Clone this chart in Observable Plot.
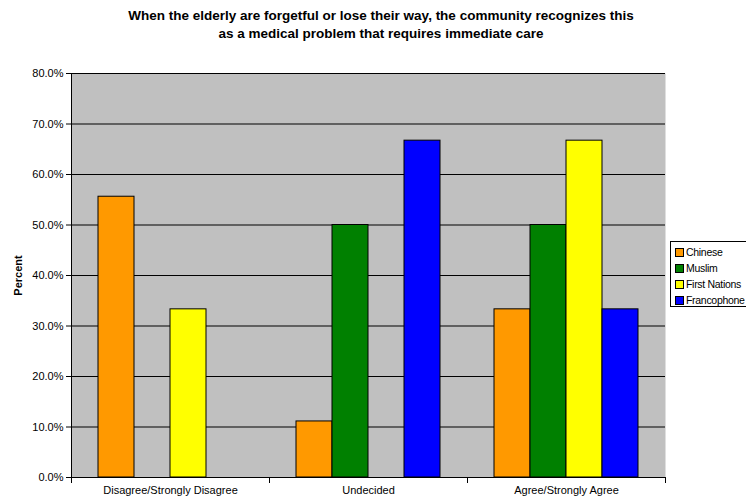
<!DOCTYPE html>
<html><head><meta charset="utf-8">
<script src="https://cdn.jsdelivr.net/npm/d3@7"></script>
<script src="https://cdn.jsdelivr.net/npm/@observablehq/plot@0.6"></script>
<style>
body{margin:0;width:746px;height:500px;overflow:hidden;background:#fff;font-family:"Liberation Sans",Arial,sans-serif;position:relative}
#title{height:50px;text-align:center;font-weight:bold;font-size:13.5px;line-height:18px;padding-top:7px;box-sizing:border-box;padding-left:16px;color:#000}
#legend{position:absolute;left:670px;top:241px;width:92px;height:66px;border:1px solid #000;background:#fff;font-size:10.5px;box-sizing:border-box;padding-top:2px}
#legend .item{height:16px;line-height:16px;white-space:nowrap;padding-left:4px;letter-spacing:-0.3px}
#legend .sw{display:inline-block;width:7px;height:7px;border:1px solid #000;margin-right:2px;vertical-align:-1px}
svg [aria-label="y-axis label"] text{font-weight:bold}
</style></head>
<body>
<div id="title">When the elderly are forgetful or lose their way, the community recognizes this<br>as a medical problem that requires immediate care</div>
<div id="chart"></div>
<div id="legend"></div>
<script>
const categories = ["Disagree/Strongly Disagree", "Undecided", "Agree/Strongly Agree"];
const groups = ["Chinese", "Muslim", "First Nations", "Francophone"];
const colors = ["#FF9900", "#008000", "#FFFF00", "#0000FF"];
const chinese = [55.6, 11.1, 33.3];
const muslim = [0, 50.0, 50.0];
const firstNations = [33.3, 0, 66.7];
const francophone = [0, 66.7, 33.3];
const yTicks = [0, 10, 20, 30, 40, 50, 60, 70, 80];

const series = [chinese, muslim, firstNations, francophone];
const rows = [];
categories.forEach((c, i) => groups.forEach((g, j) => rows.push({category: c, group: g, value: series[j][i]})));

const chart = Plot.plot({
  width: 746, height: 450,
  marginLeft: 70, marginRight: 80, marginTop: 23, marginBottom: 23,
  style: {fontFamily: '"Liberation Sans", Arial, sans-serif', fontSize: "11px", background: "transparent", color: "#000"},
  fx: {domain: categories, padding: 0, label: null},
  x: {domain: groups, paddingInner: 0, paddingOuter: 0.72, axis: null},
  y: {domain: [0, 80]},
  color: {domain: groups, range: colors},
  marks: [
    Plot.frame({fill: "#C0C0C0", stroke: null, facet: "super"}),
    Plot.ruleY(yTicks, {stroke: "#000", strokeWidth: 1}),
    Plot.barY(rows.filter(d => d.value > 0), {fx: "category", x: "group", y: "value", fill: "group", stroke: "#000", strokeWidth: 1}),
    Plot.frame({anchor: "left", stroke: "#000", facet: "super"}),
    Plot.frame({anchor: "left", stroke: "#000", insetTop: 404, insetBottom: -5}),
    Plot.frame({anchor: "right", stroke: "#000", insetTop: 404, insetBottom: -5, facetAnchor: "right"}),
    Plot.axisY({ticks: yTicks, tickFormat: d => d.toFixed(1) + "%", tickSize: 5, tickPadding: 3, label: "Percent", labelAnchor: "center", labelArrow: "none", labelOffset: 57}),
    Plot.axisFx({anchor: "bottom", tickSize: 0, tickPadding: 9, label: null})
  ]
});
document.getElementById("chart").appendChild(chart);

const legend = document.getElementById("legend");
groups.forEach((g, j) => {
  const item = document.createElement("div");
  item.className = "item";
  const sw = document.createElement("span");
  sw.className = "sw";
  sw.style.background = colors[j];
  item.appendChild(sw);
  item.appendChild(document.createTextNode(g));
  legend.appendChild(item);
});
</script>
</body></html>
